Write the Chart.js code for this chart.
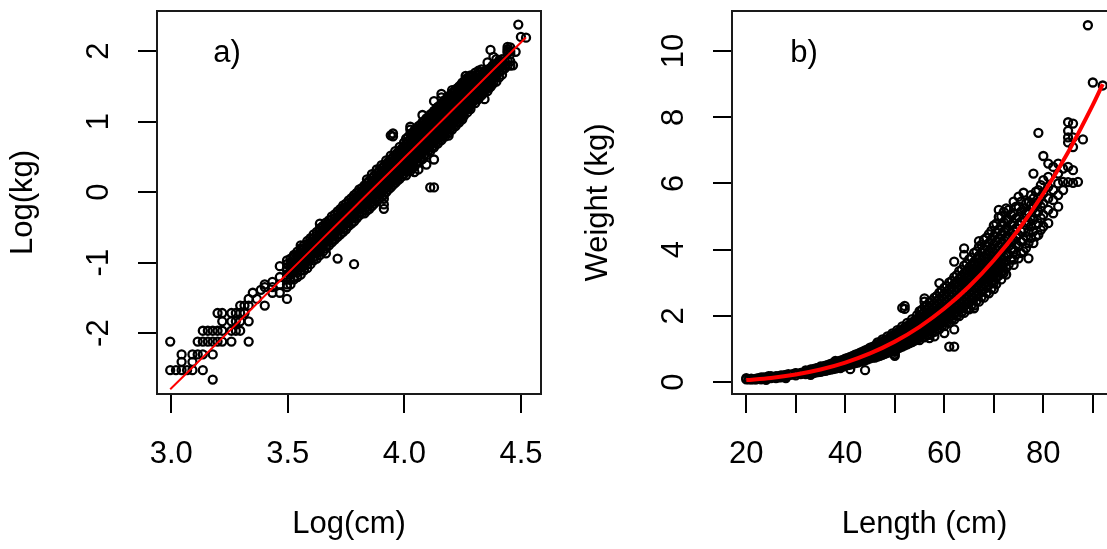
<!DOCTYPE html>
<html>
<head>
<meta charset="utf-8">
<title>Length-weight relationship</title>
<script src="https://cdn.jsdelivr.net/npm/chart.js@4.4.1/dist/chart.umd.min.js"></script>
<style>
  html, body { margin: 0; padding: 0; background: #fff; overflow: hidden; }
  #wrap { position: relative; width: 1107px; height: 549px; overflow: hidden; }
  canvas { position: absolute; top: 0; }
  #logChart { left: 0; }
  #rawChart { left: 560px; }
</style>
</head>
<body>
<div id="wrap">
  <canvas id="logChart" width="560" height="549"></canvas>
  <canvas id="rawChart" width="580" height="549"></canvas>
</div>
<script>
// fish lengths (cm) and the weights (kg) recorded at each length
var lengthCm = [20, 20.5, 21, 21.5, 22, 22.5, 23, 23.5, 24, 24.5,
  25, 26, 26.5, 27, 27.5, 28, 28.5, 29, 29.5, 30,
  31, 32, 33, 33.5, 34, 34.5, 35, 35.5, 36, 36.5,
  37, 37.5, 38, 38.5, 39, 39.5, 40, 40.5, 41, 41.5,
  42, 42.5, 43, 43.5, 44, 44.5, 45, 45.5, 46, 46.5,
  47, 47.5, 48, 48.5, 49, 49.5, 50, 50.5, 51, 51.5,
  52, 52.5, 53, 53.5, 54, 54.5, 55, 55.5, 56, 56.5,
  57, 57.5, 58, 58.5, 59, 59.5, 60, 60.5, 61, 61.5,
  62, 62.5, 63, 63.5, 64, 64.5, 65, 65.5, 66, 66.5,
  67, 67.5, 68, 68.5, 69, 69.5, 70, 70.5, 71, 71.5,
  72, 72.5, 73, 73.5, 74, 74.5, 75, 75.5, 76, 76.5,
  77, 77.5, 78, 78.5, 79, 79.5, 80, 81, 82, 83,
  84, 85, 86, 87, 88, 89, 90, 92]

var weightKg = [
  [0.08, 0.12], [0.08], [0.08, 0.09, 0.1], [0.08], [0.08, 0.09, 0.1],
  [0.1, 0.12], [0.08, 0.1, 0.12, 0.14], [0.12, 0.14], [0.07, 0.1, 0.12, 0.14], [0.12, 0.14, 0.18],
  [0.12, 0.14, 0.16, 0.18], [0.12, 0.14, 0.16, 0.18], [0.14, 0.16, 0.18], [0.14, 0.16, 0.18, 0.2], [0.18, 0.2],
  [0.12, 0.16, 0.2, 0.22], [0.24], [0.22], [0.25], [0.2, 0.26, 0.27],
  [0.24, 0.26, 0.28],
  [0.24, 0.27, 0.3, 0.35],
  [0.22, 0.26, 0.27, 0.29, 0.3, 0.31, 0.33, 0.34, 0.36, 0.38],
  [0.27, 0.29, 0.31, 0.32, 0.34, 0.35, 0.37, 0.39],
  [0.29, 0.3, 0.32, 0.33, 0.35, 0.36, 0.38, 0.4, 0.41],
  [0.3, 0.32, 0.34, 0.36, 0.37, 0.39, 0.41, 0.43],
  [0.31, 0.33, 0.35, 0.36, 0.38, 0.4, 0.42, 0.44, 0.45, 0.47],
  [0.33, 0.35, 0.37, 0.39, 0.41, 0.43, 0.45, 0.47],
  [0.34, 0.36, 0.38, 0.4, 0.42, 0.44, 0.46, 0.48, 0.5],
  [0.36, 0.39, 0.41, 0.43, 0.45, 0.47, 0.49, 0.52],
  [0.38, 0.4, 0.42, 0.44, 0.46, 0.48, 0.5, 0.52, 0.55],
  [0.39, 0.42, 0.44, 0.47, 0.49, 0.51, 0.54, 0.57],
  [0.41, 0.43, 0.46, 0.48, 0.5, 0.52, 0.55, 0.57, 0.6, 0.64],
  [0.43, 0.46, 0.48, 0.51, 0.53, 0.56, 0.59, 0.62],
  [0.42, 0.45, 0.47, 0.5, 0.52, 0.54, 0.57, 0.59, 0.62, 0.65],
  [0.47, 0.5, 0.53, 0.55, 0.58, 0.61, 0.64, 0.67],
  [0.49, 0.51, 0.54, 0.56, 0.59, 0.62, 0.64, 0.68, 0.71],
  [0.51, 0.54, 0.57, 0.6, 0.63, 0.66, 0.69, 0.73],
  [0.39, 0.53, 0.55, 0.58, 0.61, 0.64, 0.67, 0.7, 0.73, 0.76],
  [0.55, 0.59, 0.62, 0.65, 0.68, 0.71, 0.75, 0.79],
  [0.57, 0.6, 0.63, 0.66, 0.69, 0.72, 0.76, 0.79, 0.83],
  [0.59, 0.64, 0.67, 0.7, 0.73, 0.77, 0.81, 0.85],
  [0.62, 0.65, 0.68, 0.71, 0.75, 0.78, 0.82, 0.86, 0.89],
  [0.64, 0.69, 0.72, 0.76, 0.79, 0.83, 0.87, 0.92],
  [0.36, 0.66, 0.7, 0.73, 0.77, 0.8, 0.84, 0.88, 0.92, 0.96],
  [0.69, 0.74, 0.78, 0.82, 0.85, 0.9, 0.94, 0.99],
  [0.72, 0.75, 0.79, 0.83, 0.87, 0.91, 0.95, 1.0, 1.04],
  [0.74, 0.8, 0.84, 0.88, 0.92, 0.96, 1.01, 1.06],
  [0.74, 0.78, 0.83, 0.88, 0.93, 0.98, 1.04, 1.1],
  [0.77, 0.81, 0.86, 0.91, 0.96, 1.01, 1.07, 1.14, 1.2],
  [0.79, 0.84, 0.89, 0.94, 1.0, 1.05, 1.11, 1.18],
  [0.82, 0.87, 0.92, 0.97, 1.03, 1.09, 1.15, 1.22, 1.29],
  [0.85, 0.9, 0.96, 1.01, 1.07, 1.13, 1.19, 1.27],
  [0.88, 0.93, 0.99, 1.04, 1.11, 1.16, 1.23, 1.3, 1.38],
  [0.91, 0.97, 1.02, 1.08, 1.14, 1.21, 1.28, 1.36],
  [0.94, 1.0, 1.05, 1.11, 1.18, 1.24, 1.31, 1.4, 1.47],
  [0.79, 0.84, 0.91, 0.96, 1.03, 1.09, 1.16, 1.22, 1.29, 1.36, 1.45],
  [1.0, 1.07, 1.13, 1.19, 1.26, 1.33, 1.4, 1.49, 1.57],
  [1.04, 1.1, 1.17, 1.23, 1.3, 1.38, 1.46, 1.55],
  [1.07, 1.14, 1.2, 1.27, 1.35, 1.42, 1.5, 1.59, 1.68, 2.24],
  [1.11, 1.17, 1.25, 1.32, 1.39, 1.47, 1.55, 1.65, 2.21, 2.3],
  [1.14, 1.21, 1.28, 1.35, 1.43, 1.51, 1.59, 1.69, 1.79],
  [1.18, 1.25, 1.33, 1.4, 1.48, 1.56, 1.65, 1.75],
  [1.21, 1.29, 1.36, 1.44, 1.53, 1.6, 1.7, 1.8, 1.9],
  [1.25, 1.33, 1.41, 1.49, 1.57, 1.66, 1.76, 1.86],
  [1.29, 1.37, 1.45, 1.53, 1.62, 1.7, 1.8, 1.91, 2.02],
  [1.27, 1.39, 1.48, 1.57, 1.67, 1.77, 1.88, 2.0, 2.14],
  [1.35, 1.44, 1.53, 1.62, 1.72, 1.83, 1.94, 2.06, 2.19],
  [1.35, 1.48, 1.57, 1.67, 1.77, 1.88, 2.0, 2.12, 2.28, 2.43, 2.53],
  [1.43, 1.52, 1.62, 1.72, 1.82, 1.94, 2.06, 2.18, 2.32],
  [1.33, 1.43, 1.57, 1.67, 1.77, 1.88, 1.99, 2.12, 2.25, 2.41],
  [1.52, 1.61, 1.71, 1.82, 1.93, 2.05, 2.18, 2.31, 2.46],
  [1.38, 1.52, 1.66, 1.76, 1.87, 1.99, 2.11, 2.24, 2.38, 2.55],
  [1.61, 1.71, 1.81, 1.93, 2.04, 2.17, 2.31, 2.45, 2.6],
  [1.6, 1.76, 1.86, 1.98, 2.1, 2.23, 2.37, 2.52, 2.7, 2.99],
  [1.7, 1.81, 1.92, 2.04, 2.16, 2.29, 2.44, 2.59, 2.75],
  [1.48, 1.69, 1.85, 1.97, 2.09, 2.22, 2.36, 2.5, 2.66, 2.85],
  [1.8, 1.91, 2.02, 2.15, 2.28, 2.42, 2.57, 2.73, 2.9],
  [1.07, 1.79, 1.96, 2.08, 2.21, 2.34, 2.49, 2.64, 2.81, 3.01],
  [1.89, 2.01, 2.14, 2.27, 2.41, 2.56, 2.71, 2.88, 3.06],
  [1.07, 1.59, 1.89, 2.06, 2.19, 2.33, 2.47, 2.63, 2.79, 2.96, 3.17, 3.64],
  [2.0, 2.12, 2.25, 2.39, 2.54, 2.7, 2.86, 3.04, 3.23],
  [1.99, 2.18, 2.31, 2.46, 2.61, 2.77, 2.94, 3.12, 3.35],
  [2.1, 2.23, 2.37, 2.52, 2.67, 2.84, 3.02, 3.2, 3.4],
  [2.09, 2.29, 2.43, 2.58, 2.74, 2.91, 3.09, 3.28, 3.52, 3.84, 4.04],
  [2.21, 2.35, 2.5, 2.65, 2.81, 2.99, 3.17, 3.37, 3.58],
  [2.2, 2.41, 2.56, 2.72, 2.89, 3.07, 3.25, 3.46, 3.71],
  [2.33, 2.47, 2.62, 2.79, 2.96, 3.14, 3.34, 3.54, 3.76],
  [2.23, 2.31, 2.53, 2.69, 2.86, 3.03, 3.22, 3.42, 3.63, 3.9],
  [2.45, 2.6, 2.76, 2.93, 3.11, 3.3, 3.51, 3.72, 3.95],
  [2.43, 2.66, 2.83, 3.0, 3.19, 3.39, 3.59, 3.82, 4.09, 4.26],
  [2.57, 2.73, 2.9, 3.08, 3.27, 3.47, 3.68, 3.91, 4.15],
  [2.55, 2.8, 2.97, 3.15, 3.35, 3.56, 3.77, 4.01, 4.3],
  [2.7, 2.86, 3.04, 3.23, 3.43, 3.64, 3.86, 4.1, 4.36],
  [2.68, 2.93, 3.11, 3.31, 3.51, 3.73, 3.95, 4.2, 4.47],
  [2.83, 3.0, 3.19, 3.38, 3.59, 3.82, 4.05, 4.3, 4.57],
  [2.81, 2.99, 3.07, 3.26, 3.47, 3.68, 3.91, 4.15, 4.41, 4.73],
  [2.96, 3.15, 3.34, 3.55, 3.77, 4.0, 4.25, 4.51, 4.79],
  [3.22, 3.42, 3.63, 3.85, 4.09, 4.34, 4.61, 4.99, 5.2],
  [3.1, 3.29, 3.5, 3.71, 3.94, 4.19, 4.45, 4.72, 5.01],
  [3.29, 3.37, 3.58, 3.8, 4.04, 4.29, 4.55, 4.83, 5.14],
  [3.25, 3.45, 3.66, 3.89, 4.13, 4.38, 4.65, 4.94, 5.25],
  [3.55, 3.85, 4.1, 4.35, 4.6, 4.9, 5.2],
  [3.7, 4.0, 4.25, 4.5, 4.75, 5.05],
  [3.54, 3.7, 4.0, 4.3, 4.55, 4.8, 5.1, 5.45],
  [3.85, 4.15, 4.4, 4.65, 4.95, 5.3],
  [3.74, 4.1, 4.45, 4.75, 5.0, 5.3, 5.6],
  [3.9, 4.25, 4.55, 4.85, 5.15, 5.45],
  [3.95, 4.3, 4.6, 4.95, 5.25, 5.72],
  [4.05, 4.4, 4.75, 5.1, 5.4],
  [3.74, 4.2, 4.55, 4.85, 5.15, 5.45],
  [4.35, 4.7, 5.0, 5.35, 5.65],
  [4.2, 4.55, 4.9, 5.25, 5.55, 6.3],
  [4.4, 4.75, 5.1, 5.4, 5.75],
  [4.45, 4.8, 5.15, 5.45, 5.8, 7.53],
  [4.6, 4.95, 5.3, 5.6, 5.95],
  [4.7, 5.05, 5.4, 5.7, 6.1, 6.83],
  [4.8, 5.2, 5.55, 5.9, 6.2, 6.6],
  [5.1, 5.5, 5.8, 6.5],
  [5.3, 5.65, 6.0, 6.3, 6.6],
  [5.8, 6.05, 6.45],
  [6.04, 6.5, 7.24, 7.39, 7.59, 7.85],
  [6.02, 6.4, 7.1, 7.39, 7.81],
  [6.05],
  [7.33],
  [10.78],
  [9.05],
  [8.96]
]

// red fitted curve
var fitLengthCm = [20, 25, 30, 35, 40, 45, 50, 55, 60, 65, 70, 75, 80, 85, 90, 92]
var fitWeightKg = [0.061, 0.126, 0.23, 0.38, 0.589, 0.866, 1.222, 1.67, 2.221, 2.886, 3.68, 4.609, 5.697, 6.946, 8.373, 9.0]

var logCmTicks = [3.0, 3.5, 4.0, 4.5]
var logKgTicks = [-2, -1, 0, 1, 2]
var lengthTicks = [20, 30, 40, 50, 60, 70, 80, 90]
var lengthTickLabels = ["20", "", "40", "", "60", "", "80", ""]
var weightTicks = [0, 2, 4, 6, 8, 10]
var panelTags = ["a)", "b)"]

Chart.defaults.font.family = "'Liberation Sans', Arial, sans-serif"
Chart.defaults.font.size = 31
Chart.defaults.color = "#000"

var rawPoints = []
var logPoints = []
for (var i = 0; i < lengthCm.length; i++) {
  for (var j = 0; j < weightKg[i].length; j++) {
    rawPoints.push({x: lengthCm[i], y: weightKg[i][j]})
    logPoints.push({x: Math.log(lengthCm[i]), y: Math.log(weightKg[i][j])})
  }
}
var fitRaw = fitLengthCm.map(function (l, k) { return {x: l, y: fitWeightKg[k]} })
var fitLog = fitLengthCm.map(function (l, k) { return {x: Math.log(l), y: Math.log(fitWeightKg[k])} })

// R style box round the plot region plus the panel letter
var boxPlugin = {
  id: "rBox",
  afterDatasetsDraw: function (chart, args, opts) {
    var a = chart.chartArea
    var ctx = chart.ctx
    ctx.save()
    ctx.strokeStyle = "#1a1a1a"
    ctx.lineWidth = 2
    ctx.strokeRect(a.left, a.top, a.right - a.left, a.bottom - a.top)
    ctx.fillStyle = "#000"
    ctx.font = "31px 'Liberation Sans', Arial, sans-serif"
    ctx.textAlign = "center"
    ctx.textBaseline = "alphabetic"
    ctx.fillText(opts.text, chart.scales.x.getPixelForValue(opts.x), chart.scales.y.getPixelForValue(opts.y))
    ctx.restore()
  }
}

function fixedSize(size, isX) {
  return function (scale) {
    if (isX) scale.height = size
    else scale.width = size
    scale.paddingTop = 0
    scale.paddingBottom = 0
    scale.paddingLeft = 0
    scale.paddingRight = 0
  }
}

function useTicks(values) {
  return function (scale) {
    scale.ticks = values.map(function (v) { return {value: v} })
  }
}

function panel(canvasId, p) {
  return new Chart(document.getElementById(canvasId), {
    type: "scatter",
    data: {
      datasets: [
        {data: p.fit, showLine: true, borderColor: "#ff0000", borderWidth: p.fitWidth, pointRadius: 0, cubicInterpolationMode: "monotone"},
        {data: p.points, pointStyle: "circle", pointRadius: 4, borderWidth: 2.3, borderColor: "#000", backgroundColor: "rgba(0,0,0,0)"}
      ]
    },
    plugins: [boxPlugin],
    options: {
      responsive: false,
      animation: false,
      events: [],
      layout: {padding: p.padding},
      plugins: {
        legend: {display: false},
        tooltip: {enabled: false},
        rBox: {text: p.tag, x: p.tagX, y: p.tagY}
      },
      scales: {
        x: {
          type: "linear", position: "bottom", min: p.xMin, max: p.xMax, bounds: "data",
          afterBuildTicks: useTicks(p.xTicks),
          afterFit: fixedSize(155, true),
          grid: {drawOnChartArea: false, tickLength: 19, lineWidth: 2, color: "#000"},
          border: {display: true, width: 2, color: "#000"},
          ticks: {autoSkip: false, minRotation: 0, maxRotation: 0, padding: 23, callback: p.xLabel},
          title: {display: true, text: p.xTitle, padding: {top: 0, bottom: 6}}
        },
        y: {
          type: "linear", position: "left", min: p.yMin, max: p.yMax, bounds: "data",
          afterBuildTicks: useTicks(p.yTicks),
          afterFit: fixedSize(157, false),
          grid: {drawOnChartArea: false, tickLength: 19, lineWidth: 2, color: "#000"},
          border: {display: true, width: 2, color: "#000"},
          ticks: {autoSkip: false, minRotation: 90, maxRotation: 90, crossAlign: "center", padding: p.yPad,
            callback: function (v) { return String(v) }},
          title: {display: true, text: p.yTitle, padding: {top: 5, bottom: 0}}
        }
      }
    }
  })
}

panel("logChart", {
  points: logPoints, fit: fitLog, fitWidth: 2,
  padding: {left: 0, top: 11, right: 19, bottom: 0},
  xMin: 2.939, xMax: 4.586, yMin: -2.864, yMax: 2.571,
  xTicks: logCmTicks, yTicks: logKgTicks,
  xLabel: function (v) { return v.toFixed(1) },
  yPad: 25,
  xTitle: "Log(cm)", yTitle: "Log(kg)",
  tag: panelTags[0], tagX: 3.239, tagY: 1.847
})

panel("rawChart", {
  points: rawPoints, fit: fitRaw, fitWidth: 4,
  padding: {left: 15, top: 11, right: 23, bottom: 0},
  xMin: 17.12, xMax: 94.88, yMin: -0.36, yMax: 11.21,
  xTicks: lengthTicks, yTicks: weightTicks,
  xLabel: function (v, idx) { return lengthTickLabels[idx] },
  yPad: 21,
  xTitle: "Length (cm)", yTitle: "Weight (kg)",
  tag: panelTags[1], tagX: 31.66, tagY: 9.67
})
</script>
</body>
</html>
